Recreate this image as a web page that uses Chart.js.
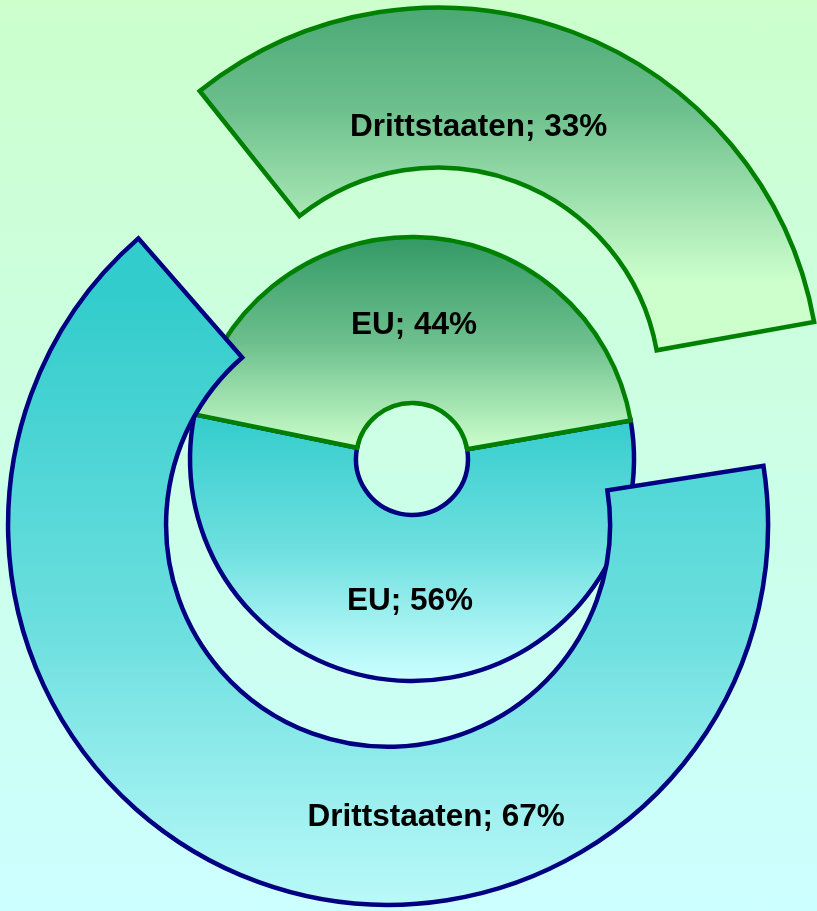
<!DOCTYPE html>
<html>
<head>
<meta charset="utf-8">
<script src="https://cdn.jsdelivr.net/npm/chart.js@4"></script>
<style>
  html, body { margin: 0; padding: 0; }
  #wrap { width: 817px; height: 911px; background: linear-gradient(to bottom, #ccffcc, #ccffff); }
</style>
</head>
<body>
<div id="wrap"><canvas id="chart"></canvas></div>
<script>
// shares in percent, turquoise part first, green part second
const RING_NAMES = ['Drittstaaten', 'EU'];
const DRITTSTAATEN = [67, 33];
const EU = [56, 44];

const GREEN = { top: '#339966', mid: '#6dc08d', bottom: '#ccffcc', line: '#008000' };
const CYAN = { top: '#33cccc', mid: '#6ddfdf', bottom: '#ccffff', line: '#000080' };
const NONE = 'rgba(0,0,0,0)';
const FONT_SIZE = 31.5;

// ring sizes in px. chart.js pushes an exploded slice outwards by its offset
// (all of it for slices over 180deg), so the base rings are smaller than what shows
const RINGS = [
  { inner: 152, outer: 310, weight: 3 },  // outer ring, turquoise piece
  { inner: 213, outer: 373, weight: 1 },  // outer ring, green piece
  { inner: 56, outer: 222, weight: 1 }    // EU ring
];
const totalWeight = RINGS.reduce((s, r) => s + r.weight, 0);
let before = 0;
RINGS.forEach(r => {
  const k = (r.outer - r.inner) / r.weight;
  r.radius = r.outer + k * before;
  r.cutout = (100 * (1 - k * totalWeight / r.radius)) + '%';
  before += r.weight;
});

// where the text sits inside its slice: [share of the angle, share of the ring width]
const LABEL_SPOTS = [
  [[0.378, 0.456], null],
  [null, [0.40, 0.286]],
  [[0.5, 0.503], [0.5, 0.485]]
];

// what chart.js actually draws for an arc (translate + radius push)
function sliceGeom(el, offset) {
  const t = (offset || 0) / 4;
  const circ = el.endAngle - el.startAngle;
  const push = t * (1 - Math.sin(Math.min(Math.PI, circ)));
  const mid = (el.startAngle + el.endAngle) / 2;
  return {
    x: el.x + Math.cos(mid) * t,
    y: el.y + Math.sin(mid) * t,
    r0: el.innerRadius + push,
    r1: el.outerRadius + push,
    a0: el.startAngle,
    a1: el.endAngle
  };
}

function yRange(g) {
  const ys = [];
  [g.a0, g.a1].forEach(a => ys.push(g.y + g.r0 * Math.sin(a), g.y + g.r1 * Math.sin(a)));
  [-Math.PI / 2, Math.PI / 2].forEach(a => {
    for (let k = -2; k <= 2; k++) {
      const aa = a + k * 2 * Math.PI;
      if (aa > g.a0 && aa < g.a1) ys.push(g.y + g.r1 * Math.sin(aa));
    }
  });
  return [Math.min(...ys), Math.max(...ys)];
}

function paint(c) {
  const piece = c.dataset.pieces[c.dataIndex];
  if (!piece) return NONE;
  const el = c.element;
  if (!el || el.outerRadius === undefined) return piece.bottom;
  const [y0, y1] = yRange(sliceGeom(el, c.dataset.offset[c.dataIndex]));
  const grad = c.chart.ctx.createLinearGradient(0, y0, 0, y1);
  grad.addColorStop(0, piece.top);
  grad.addColorStop(0.5, piece.mid);
  grad.addColorStop(1, piece.bottom);
  return grad;
}

function ring(label, data, pieces, offset, rotation, r) {
  return {
    label: label,
    data: data,
    pieces: pieces,
    offset: offset,
    rotation: rotation,
    backgroundColor: paint,
    borderColor: c => c.dataset.pieces[c.dataIndex] ? c.dataset.pieces[c.dataIndex].line : NONE,
    borderWidth: c => c.dataset.pieces[c.dataIndex] ? 4.5 : 0,
    radius: r.radius,
    cutout: r.cutout,
    weight: r.weight
  };
}

const sliceLabels = {
  id: 'sliceLabels',
  afterDatasetsDraw(chart) {
    const ctx = chart.ctx;
    ctx.save();
    ctx.font = 'bold ' + FONT_SIZE + 'px "Liberation Sans", Arial, sans-serif';
    ctx.fillStyle = '#000';
    ctx.textAlign = 'center';
    ctx.textBaseline = 'alphabetic';
    chart.data.datasets.forEach((ds, di) => {
      chart.getDatasetMeta(di).data.forEach((el, i) => {
        const spot = LABEL_SPOTS[di][i];
        if (!spot) return;
        const g = sliceGeom(el, ds.offset[i]);
        const a = g.a0 + (g.a1 - g.a0) * spot[0];
        const r = g.r0 + (g.r1 - g.r0) * spot[1];
        // spot marks the middle of the capitals
        ctx.fillText(ds.label + '; ' + ds.data[i] + '%', g.x + Math.cos(a) * r, g.y + Math.sin(a) * r + FONT_SIZE * 0.36);
      });
    });
    ctx.restore();
  }
};

const chart = new Chart(document.getElementById('chart'), {
  type: 'doughnut',
  data: {
    datasets: [
      ring(RING_NAMES[0], DRITTSTAATEN, [CYAN, null], [280, 0], 79.4, RINGS[0]),
      ring(RING_NAMES[0], DRITTSTAATEN, [null, GREEN], [0, 296], 80, RINGS[1]),
      ring(RING_NAMES[1], EU, [CYAN, GREEN], [0, 0], 80, RINGS[2])
    ]
  },
  options: {
    responsive: true,
    maintainAspectRatio: false,
    animation: false,
    events: [],
    layout: { padding: { left: 7, top: 7 } },
    elements: { arc: { borderAlign: 'center', borderJoinStyle: 'miter' } },
    plugins: { legend: { display: false }, tooltip: { enabled: false } }
  },
  plugins: [sliceLabels]
});
// second pass so the gradients can use the finished arc geometry
chart.update();
</script>
</body>
</html>
